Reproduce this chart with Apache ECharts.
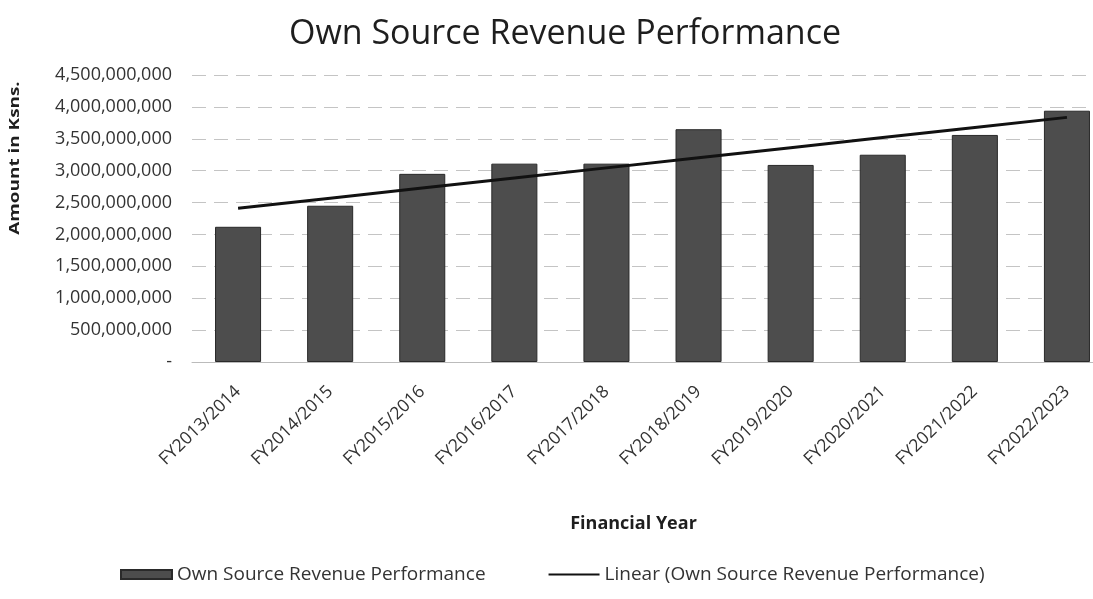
<!DOCTYPE html>
<html>
<head>
<meta charset="utf-8">
<script src="https://cdn.jsdelivr.net/npm/echarts@6/dist/echarts.min.js"></script>
<style>
  html, body { margin: 0; padding: 0; background: #fff; }
  #chart { width: 1093px; height: 599px; }
</style>
</head>
<body>
<div id="chart"></div>
<script>
const years = [
  "FY2013/2014", "FY2014/2015", "FY2015/2016", "FY2016/2017", "FY2017/2018",
  "FY2018/2019", "FY2019/2020", "FY2020/2021", "FY2021/2022", "FY2022/2023",
];
// Own source revenue, Ksh
const revenue = [
  2120000000, 2450000000, 2950000000, 3110000000, 3110000000,
  3650000000, 3090000000, 3250000000, 3560000000, 3940000000,
];
const seriesName = "Own Source Revenue Performance";

// Excel-style linear trendline (least squares over the bar values)
const n = revenue.length;
const xMean = (n + 1) / 2;
const yMean = revenue.reduce((a, b) => a + b, 0) / n;
let sxy = 0, sxx = 0;
revenue.forEach((v, i) => {
  sxy += (i + 1 - xMean) * (v - yMean);
  sxx += (i + 1 - xMean) * (i + 1 - xMean);
});
const slope = sxy / sxx;
const trend = revenue.map((v, i) => yMean + slope * (i + 1 - xMean));

const font = "'Open Sans', 'Noto Sans', sans-serif";
const chart = echarts.init(document.getElementById("chart"));

const option = {
  animation: false,
  textStyle: { fontFamily: font },
  title: {
    text: "Own Source Revenue Performance",
    left: 560,
    textAlign: "center",
    top: 12,
    textStyle: { fontSize: 34, fontWeight: 500, color: "#1e1e1e", fontFamily: font },
  },
  grid: {
    left: 192,
    width: 921,
    top: 75,
    bottom: 237,
    containLabel: false,
    outerBoundsMode: "none",
  },
  graphic: [
    {
      type: "text",
      x: 15,
      y: 158,
      rotation: Math.PI / 2,
      scaleX: 1.35,
      style: {
        text: "Amount in Ksns.",
        fontSize: 14,
        fontWeight: "bold",
        fill: "#1e1e1e",
        fontFamily: font,
        textAlign: "center",
        textVerticalAlign: "middle",
      },
    },
  ],
  legend: {
    left: 115,
    top: 560,
    itemGap: 62,
    itemWidth: 51,
    itemHeight: 9,
    itemTextGap: 3,
    textStyle: { fontSize: 19, color: "#333", fontFamily: font },
    data: [
      { name: seriesName, icon: "rect" },
      { name: "Linear (" + seriesName + ")", itemStyle: { opacity: 0 } },
    ],
  },
  xAxis: {
    type: "category",
    data: years,
    name: "Financial Year",
    nameLocation: "middle",
    nameGap: 153,
    nameTextStyle: {
      fontSize: 18,
      fontWeight: "bold",
      color: "#1e1e1e",
      fontFamily: font,
      padding: [0, 38, 0, 0],
    },
    axisLine: { show: true, lineStyle: { color: "#bbb" } },
    axisTick: { show: false },
    axisLabel: {
      rotate: 44,
      fontSize: 17.5,
      color: "#333",
      margin: 27,
      interval: 0,
      fontFamily: font,
    },
  },
  yAxis: {
    type: "value",
    min: 0,
    max: 4500000000,
    interval: 500000000,
    axisLine: { show: false },
    axisTick: { show: false },
    axisLabel: {
      fontSize: 18,
      color: "#333",
      margin: 20,
      fontFamily: font,
      formatter: (v) => (v === 0 ? "-" : v.toLocaleString("en-US")),
    },
    splitLine: { lineStyle: { color: "#c4c4c4", type: [14, 8] } },
  },
  series: [
    {
      name: seriesName,
      type: "bar",
      data: revenue,
      barWidth: "50%",
      itemStyle: { color: "#4d4d4d", borderColor: "#2a2a2a", borderWidth: 1 },
    },
    {
      name: "Linear (" + seriesName + ")",
      type: "line",
      data: trend,
      symbol: "none",
      lineStyle: { color: "#111", width: 3 },
      itemStyle: { color: "#111" },
    },
  ],
};

chart.setOption(option);
</script>
</body>
</html>
